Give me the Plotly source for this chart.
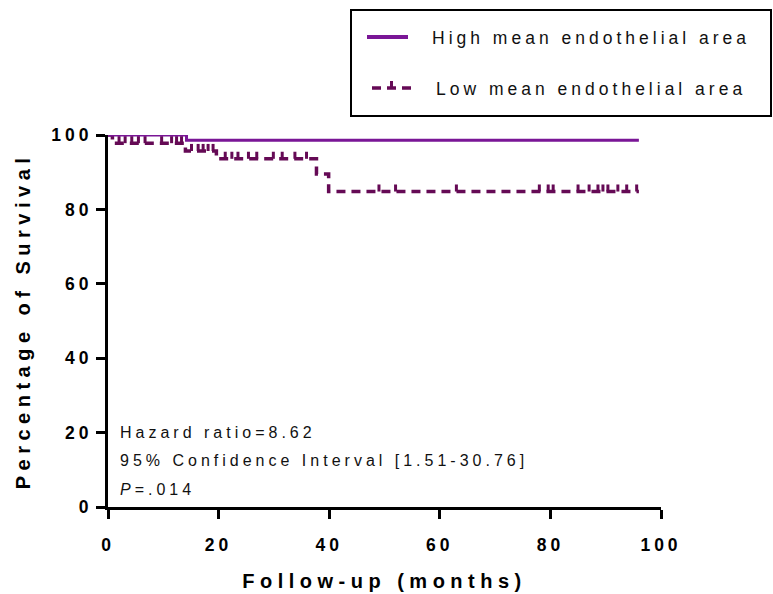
import plotly.graph_objects as go

# ---------------- data ----------------
high_times = [0, 14.2, 96]
high_surv = [100, 98.6, 98.6]

low_times = [0, 0.8, 14.0, 19.6, 37.7, 39.9, 96]
low_surv = [100, 97.8, 95.7, 93.6, 89.5, 84.8, 84.8]

low_censor_times = [2.0, 3.1, 4.3, 5.5, 6.7, 9.7, 11.5, 12.4, 13.3,
                    15.1, 16.3, 17.2, 18.1, 19.0,
                    21.2, 22.4, 23.5, 25.4, 26.9, 29.9, 31.5, 33.8, 35.9,
                    49.0, 52.0, 63.0, 78.0, 79.6, 80.5, 85.0, 87.0, 88.6,
                    89.5, 90.4, 92.2, 93.8, 95.6]

x_ticks = [0, 20, 40, 60, 80, 100]
y_ticks = [0, 20, 40, 60, 80, 100]

series_names = ["High mean endothelial area", "Low mean endothelial area"]
stats_lines = ["Hazard ratio=8.62",
               "95% Confidence Interval [1.51-30.76]",
               "<i>P</i>=.014"]


def step_value(times, surv, t):
    v = surv[0]
    for ti, si in zip(times, surv):
        if ti <= t:
            v = si
    return v


low_censor_surv = [step_value(low_times, low_surv, t) for t in low_censor_times]

HIGH_C = "#7A1696"
LOW_C = "#650A55"
FONT = "Liberation Sans, Arial, sans-serif"

W, H = 773, 594
L, R, T, B = 108, 112, 135, 87
pw, ph = W - L - R, H - T - B


def px(xp):
    return (xp - L) / pw


def py(yp):
    return (H - B - yp) / ph


fig = go.Figure()

fig.add_trace(go.Scatter(
    x=low_times, y=low_surv, mode="lines", line_shape="hv",
    line=dict(color=LOW_C, width=3.5, dash="9px,6px"),
    cliponaxis=False, showlegend=False, hoverinfo="skip"))

fig.add_trace(go.Scatter(
    x=low_censor_times, y=low_censor_surv, mode="markers",
    marker=dict(size=1, color=LOW_C, opacity=0),
    error_y=dict(type="constant", value=1.9, valueminus=0, symmetric=False,
                 color=LOW_C, thickness=3, width=0),
    cliponaxis=False, showlegend=False, hoverinfo="skip"))

fig.add_trace(go.Scatter(
    x=high_times, y=high_surv, mode="lines", line_shape="hv",
    line=dict(color=HIGH_C, width=3),
    cliponaxis=False, showlegend=False, hoverinfo="skip"))

axis_common = dict(
    showline=True, linecolor="black", linewidth=3,
    ticks="outside", ticklen=9, tickwidth=3, tickcolor="black",
    showgrid=False, zeroline=False,
    tickfont=dict(family=FONT, size=17.5, color="black", weight="bold"),
)

fig.update_xaxes(
    range=[0, 100], tickvals=x_ticks, ticktext=[str(v) for v in x_ticks],
    title=dict(text="Follow-up (months)", standoff=20,
               font=dict(family=FONT, size=20, color="black", weight="bold")),
    ticklabelstandoff=11,
    **axis_common)
fig.update_yaxes(
    range=[0, 100], tickvals=y_ticks, ticktext=[str(v) for v in y_ticks],
    title=dict(text="Percentage of Survival", standoff=28,
               font=dict(family=FONT, size=20, color="black", weight="bold")),
    ticklabelstandoff=0,
    **axis_common)

# stats text
for i, (txt, ycen) in enumerate(zip(stats_lines, [432, 460, 489])):
    fig.add_annotation(x=px(118), y=py(ycen), xref="paper", yref="paper",
                       text=txt, showarrow=False, xanchor="left",
                       yanchor="middle", align="left",
                       font=dict(family=FONT, size=16, color="#111111"))

# legend box (drawn manually)
fig.add_shape(type="rect", xref="paper", yref="paper",
              x0=px(351), x1=px(771), y0=py(10), y1=py(116),
              line=dict(color="black", width=2), fillcolor="white")
fig.add_shape(type="line", xref="paper", yref="paper",
              x0=px(367), x1=px(408), y0=py(37), y1=py(37),
              line=dict(color=HIGH_C, width=4))
fig.add_shape(type="line", xref="paper", yref="paper",
              x0=px(372), x1=px(411), y0=py(88), y1=py(88),
              line=dict(color=LOW_C, width=3.5, dash="9px,6px"))
fig.add_shape(type="line", xref="paper", yref="paper",
              x0=px(391.5), x1=px(391.5), y0=py(88), y1=py(81),
              line=dict(color=LOW_C, width=3))
fig.add_annotation(x=px(430), y=py(38), xref="paper", yref="paper",
                   text=series_names[0], showarrow=False, xanchor="left",
                   yanchor="middle", align="left",
                   font=dict(family=FONT, size=17.5, color="#111111"))
fig.add_annotation(x=px(434), y=py(89), xref="paper", yref="paper",
                   text=series_names[1], showarrow=False, xanchor="left",
                   yanchor="middle", align="left",
                   font=dict(family=FONT, size=17.5, color="#111111"))

fig.update_layout(
    width=W, height=H,
    margin=dict(l=L, r=R, t=T, b=B, autoexpand=False),
    paper_bgcolor="white", plot_bgcolor="white",
    showlegend=False,
)

post = """
var s = document.createElement('style');
s.textContent = 'html, body {margin: 0; padding: 0; overflow: hidden;} ' +
  '.modebar-container {display: none !important;} ' +
  '.xtick text, .ytick text {letter-spacing: 4px;} ' +
  '.g-xtitle text, .g-ytitle text {letter-spacing: 5.5px;} ' +
  '.annotation-text {letter-spacing: 4px;}';
document.head.appendChild(s);
"""

fig.write_html("out.html", post_script=post,
               config={"displayModeBar": False, "staticPlot": True})
